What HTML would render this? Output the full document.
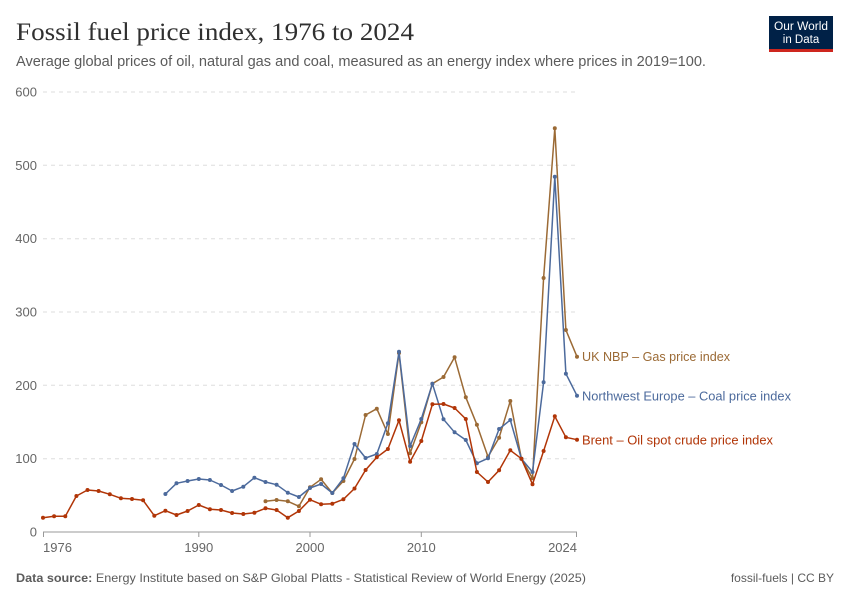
<!DOCTYPE html>
<html>
<head>
<meta charset="utf-8">
<style>
  html, body { margin:0; padding:0; background:#fff; }
  svg { display:block; }
  text { font-family: "Liberation Sans", sans-serif; }
</style>
</head>
<body>
<svg width="850" height="600" viewBox="0 0 850 600" xmlns="http://www.w3.org/2000/svg">
  <rect width="850" height="600" fill="#fff"/>

  <!-- Title & subtitle -->
  <text x="16" y="40" font-family="Liberation Serif, serif" font-size="25" fill="#303030" textLength="398" lengthAdjust="spacingAndGlyphs" style="font-family:'Liberation Serif',serif">Fossil fuel price index, 1976 to 2024</text>
  <text x="16" y="66" font-size="14.5" fill="#5b5b5b" textLength="690" lengthAdjust="spacingAndGlyphs">Average global prices of oil, natural gas and coal, measured as an energy index where prices in 2019=100.</text>

  <!-- Logo -->
  <rect x="769" y="16" width="64" height="33" fill="#002147"/>
  <rect x="769" y="49" width="64" height="3" fill="#ce261e"/>
  <text x="801" y="30" font-size="11.5" fill="#fff" text-anchor="middle" textLength="54" lengthAdjust="spacingAndGlyphs">Our World</text>
  <text x="801" y="43" font-size="11.5" fill="#fff" text-anchor="middle">in Data</text>

  <!-- Grid -->
  <g stroke="#dddddd" stroke-width="1" stroke-dasharray="4,4">
    <line x1="43" y1="92" x2="577" y2="92"/>
    <line x1="43" y1="165.3" x2="577" y2="165.3"/>
    <line x1="43" y1="238.7" x2="577" y2="238.7"/>
    <line x1="43" y1="312" x2="577" y2="312"/>
    <line x1="43" y1="385.3" x2="577" y2="385.3"/>
    <line x1="43" y1="458.7" x2="577" y2="458.7"/>
  </g>

  <!-- Y labels -->
  <g font-size="13" fill="#666" text-anchor="end">
    <text x="37" y="96.5">600</text>
    <text x="37" y="169.8">500</text>
    <text x="37" y="243.2">400</text>
    <text x="37" y="316.5">300</text>
    <text x="37" y="389.8">200</text>
    <text x="37" y="463.2">100</text>
    <text x="37" y="536.5">0</text>
  </g>

  <!-- X axis -->
  <line x1="43" y1="532" x2="577" y2="532" stroke="#999" stroke-width="1"/>
  <g stroke="#999" stroke-width="1">
    <line x1="43.5" y1="532" x2="43.5" y2="537"/>
    <line x1="198.8" y1="532" x2="198.8" y2="537"/>
    <line x1="310" y1="532" x2="310" y2="537"/>
    <line x1="421.3" y1="532" x2="421.3" y2="537"/>
    <line x1="576.5" y1="532" x2="576.5" y2="537"/>
  </g>
  <g font-size="13" fill="#666">
    <text x="43" y="552">1976</text>
    <text x="198.8" y="552" text-anchor="middle">1990</text>
    <text x="310" y="552" text-anchor="middle">2000</text>
    <text x="421.3" y="552" text-anchor="middle">2010</text>
    <text x="577" y="552" text-anchor="end">2024</text>
  </g>

  <!-- Gas (UK NBP) -->
  <g fill="none" stroke="#9b6a35" stroke-width="1.5" stroke-linejoin="round">
    <polyline points="265.5,501.3 276.6,500 287.8,501.3 298.9,506.3 310,487.3 321.1,479.3 332.3,493 343.4,481 354.5,459 365.6,415 376.8,408.7 387.9,434 399,353 410.1,453.3 421.3,422.3 432.4,383.7 443.5,377 454.6,357.3 465.8,397.3 476.9,424.7 488,456.7 499.1,437.7 510.3,401 521.4,458.7 532.5,478.3 543.6,278 554.8,128.3 565.9,330 577,356.7"/>
  </g>
  <g fill="#9b6a35">
    <circle cx="265.5" cy="501.3" r="2"/><circle cx="276.6" cy="500" r="2"/><circle cx="287.8" cy="501.3" r="2"/><circle cx="298.9" cy="506.3" r="2"/><circle cx="310" cy="487.3" r="2"/><circle cx="321.1" cy="479.3" r="2"/><circle cx="332.3" cy="493" r="2"/><circle cx="343.4" cy="481" r="2"/><circle cx="354.5" cy="459" r="2"/><circle cx="365.6" cy="415" r="2"/><circle cx="376.8" cy="408.7" r="2"/><circle cx="387.9" cy="434" r="2"/><circle cx="399" cy="353" r="2"/><circle cx="410.1" cy="453.3" r="2"/><circle cx="421.3" cy="422.3" r="2"/><circle cx="432.4" cy="383.7" r="2"/><circle cx="443.5" cy="377" r="2"/><circle cx="454.6" cy="357.3" r="2"/><circle cx="465.8" cy="397.3" r="2"/><circle cx="476.9" cy="424.7" r="2"/><circle cx="488" cy="456.7" r="2"/><circle cx="499.1" cy="437.7" r="2"/><circle cx="510.3" cy="401" r="2"/><circle cx="521.4" cy="458.7" r="2"/><circle cx="532.5" cy="478.3" r="2"/><circle cx="543.6" cy="278" r="2"/><circle cx="554.8" cy="128.3" r="2"/><circle cx="565.9" cy="330" r="2"/><circle cx="577" cy="356.7" r="2"/>
  </g>

  <!-- Coal (Northwest Europe) -->
  <g fill="none" stroke="#4c6a9c" stroke-width="1.5" stroke-linejoin="round">
    <polyline points="165.4,494 176.5,483.3 187.6,481 198.8,479 209.9,480 221,485 232.1,491 243.3,486.7 254.4,477.7 265.5,482 276.6,484.7 287.8,492.7 298.9,497 310,488 321.1,484 332.3,493 343.4,478.3 354.5,444 365.6,458 376.8,454 387.9,423.3 399,351.7 410.1,446 421.3,419 432.4,383.7 443.5,419.3 454.6,432.3 465.8,440 476.9,463.3 488,458.3 499.1,429 510.3,420 521.4,458.7 532.5,472 543.6,382.3 554.8,176.7 565.9,373.7 577,395.7"/>
  </g>
  <g fill="#4c6a9c">
    <circle cx="165.4" cy="494" r="2"/><circle cx="176.5" cy="483.3" r="2"/><circle cx="187.6" cy="481" r="2"/><circle cx="198.8" cy="479" r="2"/><circle cx="209.9" cy="480" r="2"/><circle cx="221" cy="485" r="2"/><circle cx="232.1" cy="491" r="2"/><circle cx="243.3" cy="486.7" r="2"/><circle cx="254.4" cy="477.7" r="2"/><circle cx="265.5" cy="482" r="2"/><circle cx="276.6" cy="484.7" r="2"/><circle cx="287.8" cy="492.7" r="2"/><circle cx="298.9" cy="497" r="2"/><circle cx="310" cy="488" r="2"/><circle cx="321.1" cy="484" r="2"/><circle cx="332.3" cy="493" r="2"/><circle cx="343.4" cy="478.3" r="2"/><circle cx="354.5" cy="444" r="2"/><circle cx="365.6" cy="458" r="2"/><circle cx="376.8" cy="454" r="2"/><circle cx="387.9" cy="423.3" r="2"/><circle cx="399" cy="351.7" r="2"/><circle cx="410.1" cy="446" r="2"/><circle cx="421.3" cy="419" r="2"/><circle cx="432.4" cy="383.7" r="2"/><circle cx="443.5" cy="419.3" r="2"/><circle cx="454.6" cy="432.3" r="2"/><circle cx="465.8" cy="440" r="2"/><circle cx="476.9" cy="463.3" r="2"/><circle cx="488" cy="458.3" r="2"/><circle cx="499.1" cy="429" r="2"/><circle cx="510.3" cy="420" r="2"/><circle cx="521.4" cy="458.7" r="2"/><circle cx="532.5" cy="472" r="2"/><circle cx="543.6" cy="382.3" r="2"/><circle cx="554.8" cy="176.7" r="2"/><circle cx="565.9" cy="373.7" r="2"/><circle cx="577" cy="395.7" r="2"/>
  </g>

  <!-- Oil (Brent) -->
  <g fill="none" stroke="#b13507" stroke-width="1.5" stroke-linejoin="round">
    <polyline points="43,517.7 54.1,516.3 65.3,516.3 76.4,496 87.5,490 98.6,491 109.8,494.3 120.9,498.3 132,499 143.1,500.3 154.3,515.7 165.4,510.7 176.5,515 187.6,511 198.8,505 209.9,509.3 221,510 232.1,513 243.3,514 254.4,512.7 265.5,508.3 276.6,510 287.8,517.7 298.9,511 310,499.7 321.1,504.3 332.3,503.7 343.4,499.3 354.5,488.5 365.6,470 376.8,457.3 387.9,449 399,420.3 410.1,461.7 421.3,441 432.4,404.3 443.5,404 454.6,408 465.8,419 476.9,472 488,482 499.1,470.3 510.3,450.3 521.4,458.7 532.5,484.3 543.6,451 554.8,416.3 565.9,437.3 577,439.7"/>
  </g>
  <g fill="#b13507">
    <circle cx="43" cy="517.7" r="2"/><circle cx="54.1" cy="516.3" r="2"/><circle cx="65.3" cy="516.3" r="2"/><circle cx="76.4" cy="496" r="2"/><circle cx="87.5" cy="490" r="2"/><circle cx="98.6" cy="491" r="2"/><circle cx="109.8" cy="494.3" r="2"/><circle cx="120.9" cy="498.3" r="2"/><circle cx="132" cy="499" r="2"/><circle cx="143.1" cy="500.3" r="2"/><circle cx="154.3" cy="515.7" r="2"/><circle cx="165.4" cy="510.7" r="2"/><circle cx="176.5" cy="515" r="2"/><circle cx="187.6" cy="511" r="2"/><circle cx="198.8" cy="505" r="2"/><circle cx="209.9" cy="509.3" r="2"/><circle cx="221" cy="510" r="2"/><circle cx="232.1" cy="513" r="2"/><circle cx="243.3" cy="514" r="2"/><circle cx="254.4" cy="512.7" r="2"/><circle cx="265.5" cy="508.3" r="2"/><circle cx="276.6" cy="510" r="2"/><circle cx="287.8" cy="517.7" r="2"/><circle cx="298.9" cy="511" r="2"/><circle cx="310" cy="499.7" r="2"/><circle cx="321.1" cy="504.3" r="2"/><circle cx="332.3" cy="503.7" r="2"/><circle cx="343.4" cy="499.3" r="2"/><circle cx="354.5" cy="488.5" r="2"/><circle cx="365.6" cy="470" r="2"/><circle cx="376.8" cy="457.3" r="2"/><circle cx="387.9" cy="449" r="2"/><circle cx="399" cy="420.3" r="2"/><circle cx="410.1" cy="461.7" r="2"/><circle cx="421.3" cy="441" r="2"/><circle cx="432.4" cy="404.3" r="2"/><circle cx="443.5" cy="404" r="2"/><circle cx="454.6" cy="408" r="2"/><circle cx="465.8" cy="419" r="2"/><circle cx="476.9" cy="472" r="2"/><circle cx="488" cy="482" r="2"/><circle cx="499.1" cy="470.3" r="2"/><circle cx="510.3" cy="450.3" r="2"/><circle cx="521.4" cy="458.7" r="2"/><circle cx="532.5" cy="484.3" r="2"/><circle cx="543.6" cy="451" r="2"/><circle cx="554.8" cy="416.3" r="2"/><circle cx="565.9" cy="437.3" r="2"/><circle cx="577" cy="439.7" r="2"/>
  </g>

  <!-- Series labels -->
  <g font-size="13">
    <text x="582" y="361" fill="#9b6a35" textLength="148" lengthAdjust="spacingAndGlyphs">UK NBP – Gas price index</text>
    <text x="582" y="400.5" fill="#4c6a9c" textLength="209" lengthAdjust="spacingAndGlyphs">Northwest Europe – Coal price index</text>
    <text x="582" y="444.5" fill="#b13507" textLength="191" lengthAdjust="spacingAndGlyphs">Brent – Oil spot crude price index</text>
  </g>

  <!-- Footer -->
  <text x="16" y="582" font-size="12" fill="#5b5b5b" textLength="570" lengthAdjust="spacingAndGlyphs"><tspan font-weight="bold">Data source:</tspan> Energy Institute based on S&amp;P Global Platts - Statistical Review of World Energy (2025)</text>
  <text x="834" y="582" font-size="12" fill="#5b5b5b" text-anchor="end">fossil-fuels | CC BY</text>
</svg>
</body>
</html>
